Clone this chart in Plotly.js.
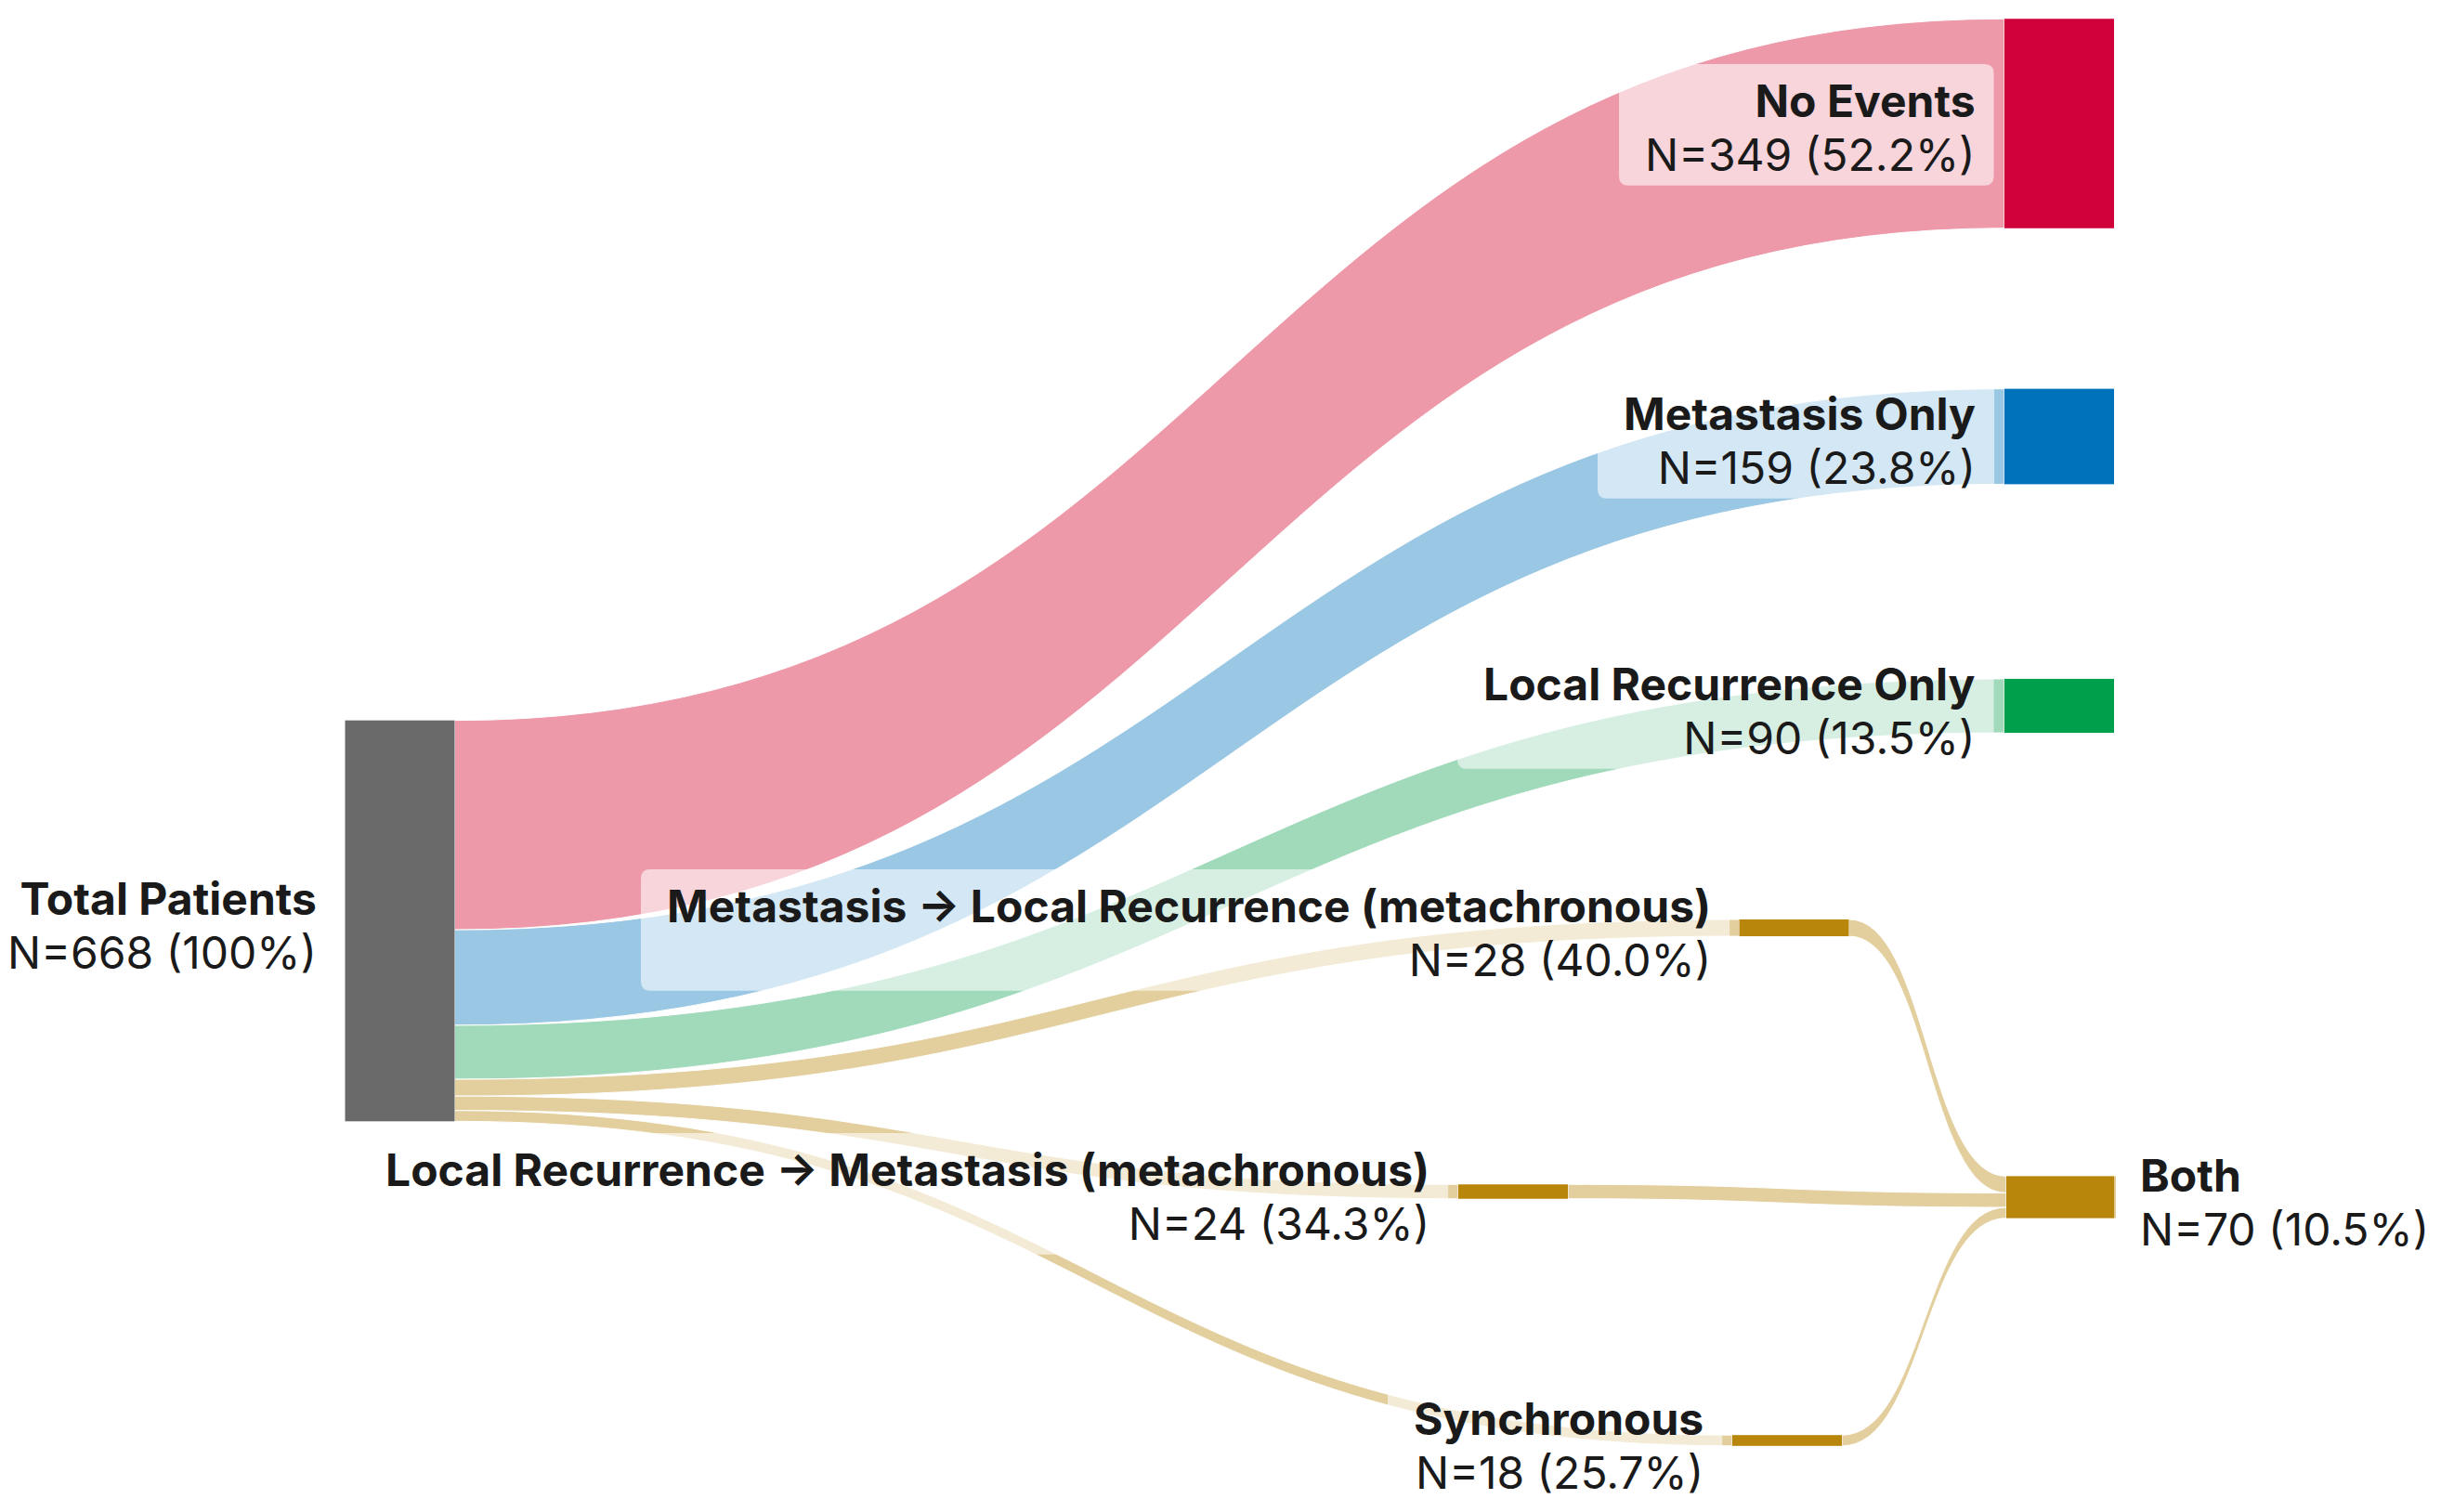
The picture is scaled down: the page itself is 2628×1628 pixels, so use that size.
<!DOCTYPE html>
<html><head><meta charset="utf-8">
<script src="https://cdn.plot.ly/plotly-3.0.1.min.js"></script>
<style>html,body{margin:0;padding:0;background:#fff}#chart{width:2628px;height:1628px}</style>
</head><body><div id="chart"></div>
<script>
// ---- data ----
const nodeNames = ["Total Patients", "No Events", "Metastasis Only", "Local Recurrence Only",
  "Metastasis \u2192 Local Recurrence (metachronous)", "Local Recurrence \u2192 Metastasis (metachronous)",
  "Synchronous", "Both"];
const nodeCounts = [668, 349, 159, 90, 28, 24, 18, 70];
const nodePct = ["100%", "52.2%", "23.8%", "13.5%", "40.0%", "34.3%", "25.7%", "10.5%"];
const linkSource = [0, 0, 0, 0, 0, 0, 4, 5, 6];
const linkTarget = [1, 2, 3, 4, 5, 6, 7, 7, 7];
const linkValue = [349, 159, 90, 28, 24, 18, 28, 24, 18];

// ---- styles ----
const nodeColors = ["#696969", "#D0003A", "#0072BB", "#009F4B", "#B8860B", "#B8860B", "#B8860B", "#B8860B"];
const linkColors = ["rgba(212,0,40,0.4)", "rgba(0,114,187,0.4)", "rgba(0,155,70,0.37)",
  "rgba(184,134,11,0.4)", "rgba(184,134,11,0.4)", "rgba(184,134,11,0.4)",
  "rgba(184,134,11,0.4)", "rgba(184,134,11,0.4)", "rgba(184,134,11,0.4)"];

// ---- layout positions (px) ----
const W = 2628, H = 1628, THICK = 118;
const DOM_H = 1295;               // sankey domain height (sets the value scale)
const nodeCX = [430.5, 2217, 2217, 2217, 1931.5, 1629, 1924, 2219];
const nodeCY = [991.5, 133, 470, 760, 999, 1283, 1551, 1289];
const labelSide = ["L", "L", "L", "L", "L", "L", "L", "R"];
const LABEL_DY = 5;

const trace = {
  type: "sankey",
  arrangement: "fixed",
  domain: {x: [0, 1], y: [1 - DOM_H / H, 1]},
  node: {
    label: nodeNames,
    color: nodeColors,
    thickness: THICK,
    pad: 2000,
    line: {width: 0, color: "white"},
    x: nodeCX.map(v => v / W),
    y: nodeCY.map(v => v / DOM_H)
  },
  link: {
    source: linkSource,
    target: linkTarget,
    value: linkValue,
    color: linkColors,
    line: {width: 1, color: "white"}
  },
  textfont: {color: "rgba(0,0,0,0)", size: 1, shadow: "none"}
};

const FONT = "Inter, 'Noto Sans', 'DejaVu Sans', sans-serif";
const annotations = nodeNames.map((name, i) => {
  const left = labelSide[i] === "L";
  const px = left ? nodeCX[i] - THICK / 2 - 30 : nodeCX[i] + THICK / 2 + 25;
  return {
    xref: "paper", yref: "paper",
    x: px / W, y: 1 - (nodeCY[i] + LABEL_DY) / H,
    xanchor: left ? "right" : "left", yanchor: "middle",
    align: left ? "right" : "left",
    showarrow: false,
    text: "<span style=\"font-size:48px\"><b>" + name + "</b></span><br>" +
          "<span style=\"font-size:48px\">N=" + nodeCounts[i] + " (" + nodePct[i] + ")</span>",
    font: {family: FONT, size: 44.5, color: "#1a1a1a"},
    bgcolor: "rgba(0,0,0,0)",
    borderpad: 0
  };
});

const layout = {
  width: W, height: H,
  margin: {l: 0, r: 0, t: 0, b: 0},
  paper_bgcolor: "white",
  font: {family: FONT},
  annotations: annotations
};

function roundRectPath(x0, y0, x1, y1, r) {
  const X = v => (v / W).toFixed(6), Y = v => (1 - v / H).toFixed(6);
  return "M" + X(x0 + r) + "," + Y(y0) +
    " L" + X(x1 - r) + "," + Y(y0) +
    " Q" + X(x1) + "," + Y(y0) + " " + X(x1) + "," + Y(y0 + r) +
    " L" + X(x1) + "," + Y(y1 - r) +
    " Q" + X(x1) + "," + Y(y1) + " " + X(x1 - r) + "," + Y(y1) +
    " L" + X(x0 + r) + "," + Y(y1) +
    " Q" + X(x0) + "," + Y(y1) + " " + X(x0) + "," + Y(y1 - r) +
    " L" + X(x0) + "," + Y(y0 + r) +
    " Q" + X(x0) + "," + Y(y0) + " " + X(x0 + r) + "," + Y(y0) + " Z";
}

Plotly.newPlot("chart", [trace], layout, {displayModeBar: false, staticPlot: true}).then(gd => {
  const root = gd.getBoundingClientRect();
  const shapes = [];
  gd.querySelectorAll("g.annotation").forEach(g => {
    const t = g.querySelector("text.annotation-text");
    if (!t) return;
    const r = t.getBoundingClientRect();
    const x0 = r.left - root.left - 28, x1 = r.right - root.left + 20;
    const y0 = r.top - root.top - 10, y1 = r.bottom - root.top + 4;
    shapes.push({
      type: "path", xref: "paper", yref: "paper", layer: "above",
      path: roundRectPath(x0, y0, x1, y1, 10),
      fillcolor: "rgba(255,255,255,0.58)", line: {width: 0}
    });
  });
  return Plotly.relayout(gd, {shapes: shapes});
});
</script>
</body></html>
